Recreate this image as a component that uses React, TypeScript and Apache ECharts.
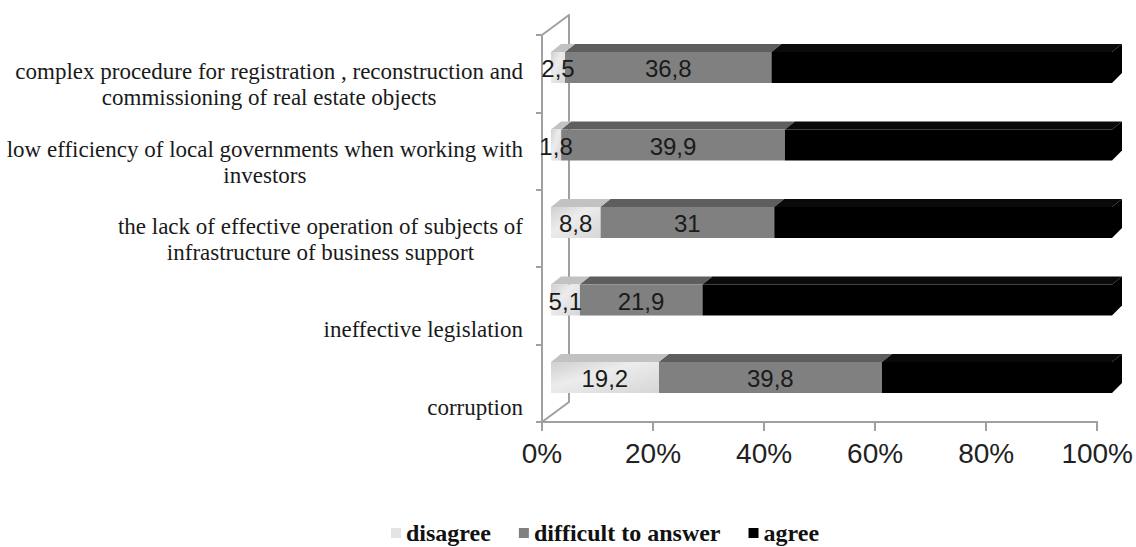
import React, { useEffect, useRef } from "react";
import * as echarts from "echarts";

const categories = [
  "complex procedure for registration , reconstruction and\ncommissioning of real estate objects",
  "low efficiency of local governments when working with\ninvestors",
  "the lack of effective operation of subjects of\ninfrastructure of business support",
  "ineffective legislation",
  "corruption",
];
const seriesNames = ["disagree", "difficult to answer", "agree"];
const disagree = [2.5, 1.8, 8.8, 5.1, 19.2];
const difficult = [36.8, 39.9, 31, 21.9, 39.8];
const agree = [60.7, 58.3, 60.2, 73.0, 41.0];
const showLabel = [true, true, false];

const frontColors = ["#dcdcdc", "#808080", "#000000"];
const topColors = ["#c2c2c2", "#5e5e5e", "#0a0a0a"];
const legendColors = ["#e4e4e4", "#808080", "#000000"];
const AXIS = "#a0a0a0";
const DX = 10;
const DY = 8;

function fmt(v: number) {
  return String(v).replace(".", ",");
}

export default function App() {
  const ref = useRef<HTMLDivElement>(null);
  useEffect(() => {
    const chart = echarts.init(ref.current!, null, { renderer: "svg" });
    const values = [disagree, difficult, agree];
    const starts = values.map((_, s) =>
      categories.map((_, i) => {
        let acc = 0;
        for (let k = 0; k < s; k++) acc += values[k][i];
        return acc;
      })
    );
    const makeRender = (s: number) => (params: any, api: any) => {
      const cat = api.value(0);
      const st = api.value(1);
      const en = api.value(2);
      const v = api.value(3);
      const a = api.coord([st, cat]);
      const b = api.coord([en, cat]);
      const h = api.size([0, 1])[1] * 0.4;
      const x0 = a[0];
      const x1 = b[0];
      const yT = a[1] - h / 2;
      const yB = a[1] + h / 2;
      const children: any[] = [
        {
          type: "polygon",
          shape: { points: [[x0, yT], [x0 + DX, yT - DY], [x1 + DX, yT - DY], [x1, yT]] },
          style: { fill: topColors[s] },
        },
        {
          type: "rect",
          shape: { x: x0, y: yT, width: x1 - x0, height: h },
          style:
            s === 0
              ? {
                  fill: new echarts.graphic.LinearGradient(0, 0, 1, 1, [
                    { offset: 0, color: "#cfcfcf" },
                    { offset: 0.4, color: "#ececec" },
                    { offset: 1, color: "#d6d6d6" },
                  ]),
                }
              : { fill: frontColors[s] },
        },
      ];
      if (s === 2) {
        children.push({
          type: "polygon",
          shape: { points: [[x1, yT], [x1 + DX, yT - DY], [x1 + DX, yB - DY - 2], [x1, yB]] },
          style: { fill: "#000" },
        });
      }
      if (showLabel[s]) {
        children.push({
          type: "text",
          z2: 100,
          style: {
            text: fmt(v),
            x: (x0 + x1) / 2,
            y: a[1] + 1,
            align: "center",
            verticalAlign: "middle",
            fill: "#1a1a1a",
            fontSize: 24,
            fontFamily: "Liberation Sans",
          },
        });
      }
      return { type: "group", children };
    };

    const series = values.map((vals, s) => ({
      type: "custom",
      name: seriesNames[s],
      xAxisIndex: 1,
      yAxisIndex: 1,
      z: s === 0 ? 3 : 2,
      itemStyle: { color: legendColors[s] },
      encode: { x: [1, 2], y: 0 },
      data: categories.map((_, i) => [i, starts[s][i], starts[s][i] + vals[i], vals[i]]),
      renderItem: makeRender(s),
    }));

    chart.setOption({
      animation: false,
      backgroundColor: "#ffffff",
      grid: [
        { left: 542, top: 35, width: 559, height: 387 },
        { left: 551, top: 28.75, width: 561, height: 387.5 },
        { left: 542, top: 72, width: 559, height: 387 },
        { left: 569, top: 15, width: 10, height: 387 },
      ],
      xAxis: [
        {
          gridIndex: 0,
          type: "value",
          min: 0,
          max: 100,
          interval: 20,
          axisLine: { show: true, lineStyle: { color: AXIS, width: 2 } },
          axisTick: { show: true, length: 9, lineStyle: { color: AXIS, width: 2 } },
          splitLine: { show: false },
          axisLabel: {
            formatter: "{value}%",
            fontSize: 28,
            fontFamily: "Liberation Sans",
            color: "#222",
            margin: 17,
          },
        },
        { gridIndex: 1, type: "value", min: 0, max: 100, show: false },
        { gridIndex: 2, type: "value", min: 0, max: 100, show: false },
        { gridIndex: 3, type: "value", min: 0, max: 100, show: false },
      ],
      yAxis: [
        {
          gridIndex: 0,
          type: "category",
          inverse: true,
          data: categories,
          axisLine: { show: true, lineStyle: { color: AXIS, width: 2 } },
          axisTick: { show: true, length: 6, lineStyle: { color: AXIS, width: 2 } },
          axisLabel: { show: false },
        },
        { gridIndex: 1, type: "category", inverse: true, data: categories, show: false },
        {
          gridIndex: 2,
          type: "category",
          inverse: true,
          data: categories,
          axisLine: { show: false },
          axisTick: { show: false },
          axisLabel: {
            margin: 19,
            align: "right",
            verticalAlign: "bottom",
            formatter: (val: string) =>
              val
                .split("\n")
                .map((l) => `{c|${l}}`)
                .join("\n"),
            rich: {
              c: {
                align: "center",
                fontFamily: "Liberation Serif",
                fontSize: 23,
                lineHeight: 26,
                color: "#1a1a1a",
              },
            },
          },
        },
        {
          gridIndex: 3,
          type: "value",
          axisLine: { show: true, lineStyle: { color: AXIS, width: 2 } },
          axisTick: { show: false },
          axisLabel: { show: false },
          splitLine: { show: false },
        },
      ],
      legend: {
        data: seriesNames,
        left: 386,
        top: 516,
        icon: "rect",
        itemWidth: 10,
        itemHeight: 10,
        itemGap: 28,
        textStyle: {
          fontFamily: "Liberation Serif",
          fontSize: 24,
          lineHeight: 24,
          fontWeight: "bold",
          color: "#111",
        },
      },
      graphic: [
        {
          type: "line",
          z: 0,
          shape: { x1: 542, y1: 35, x2: 569, y2: 15 },
          style: { stroke: AXIS, lineWidth: 2 },
        },
        {
          type: "line",
          z: 0,
          shape: { x1: 542, y1: 422, x2: 569, y2: 402 },
          style: { stroke: AXIS, lineWidth: 2 },
        },
      ],
      series,
    });
    return () => chart.dispose();
  }, []);
  return (
    <div
      ref={ref}
      style={{ position: "fixed", left: 0, top: 0, width: 1136, height: 547, background: "#fff" }}
    />
  );
}
